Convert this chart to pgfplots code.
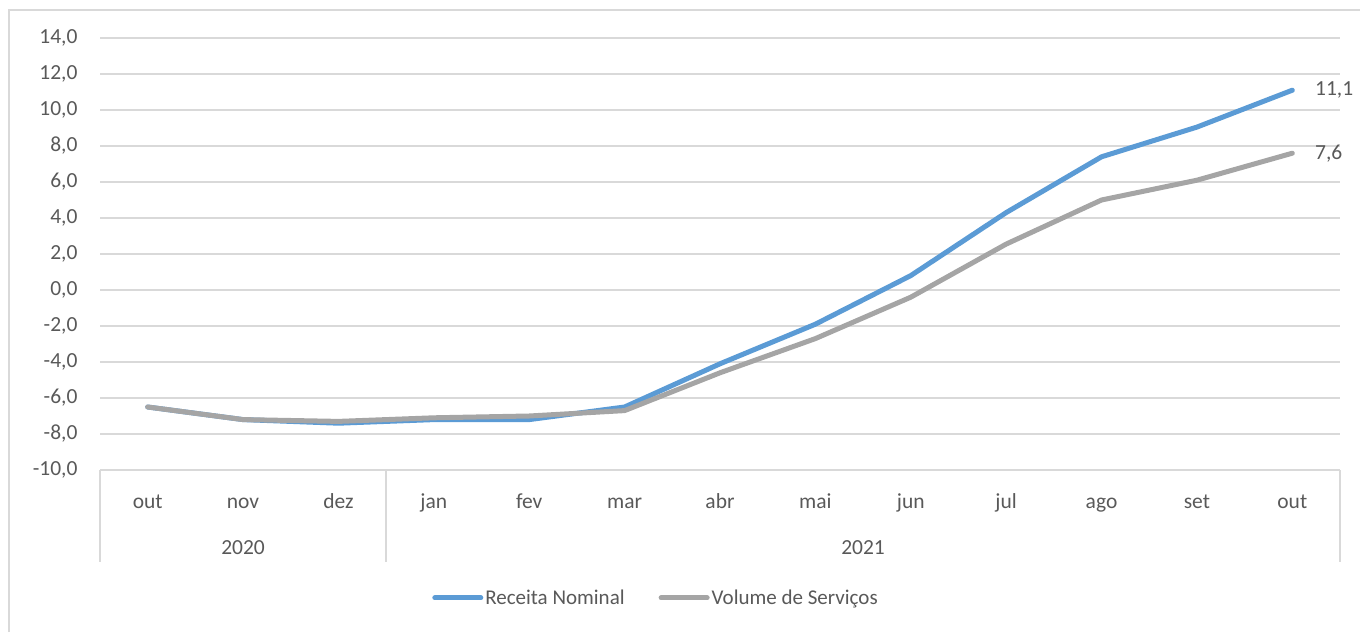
\documentclass[border=0pt]{standalone}
\usepackage{pgfplots}
\pgfplotsset{compat=1.18}
\usepackage{fontspec}
\setmainfont{Carlito}
\definecolor{txt}{HTML}{595959}
\definecolor{gridc}{HTML}{D9D9D9}
\definecolor{blueS}{HTML}{5B9BD5}
\definecolor{grayS}{HTML}{A5A5A5}
\begin{document}
\begin{tikzpicture}
\useasboundingbox (0pt,0pt) rectangle (1360pt,632pt);
\draw[gridc, line width=1.5pt] (9pt,0pt) -- (9pt,622pt) -- (1362pt,622pt);
\begin{axis}[
  at={(100pt,162pt)}, anchor=south west,
  scale only axis, width=1240pt, height=432pt,
  xmin=-0.5, xmax=12.5, ymin=-10, ymax=14,
  ytick={-10,-8,...,14},
  xtick={0,...,12},
  xticklabels={out,nov,dez,jan,fev,mar,abr,mai,jun,jul,ago,set,out},
  axis line style={draw=none},
  major tick length=0pt,
  ymajorgrids,
  grid style={gridc, line width=1.5pt},
  clip=false,
  font=\fontsize{21.5}{25}\selectfont,
  tick label style={txt, font=\fontsize{21.5}{25}\selectfont},
  xticklabel style={anchor=base, yshift=-38pt},
  yticklabel style={anchor=east, xshift=-19pt},
  /pgf/number format/.cd, fixed, fixed zerofill, precision=1, use comma, assume math mode=true,
  /pgfplots/.cd,
  legend style={draw=none, legend columns=2, at={(0.4484,-0.296)}, anchor=center,
    font=\fontsize{21}{25}\selectfont, text=txt,
    /tikz/every even column/.append style={column sep=32pt}},
  legend image code/.code={\draw[#1] (0pt,0pt) -- (46pt,0pt);},
]
\addplot[blueS, line width=5pt, line cap=round, line join=round] coordinates {
(0,-6.5) (1,-7.2) (2,-7.4) (3,-7.2) (4,-7.2) (5,-6.5) (6,-4.1) (7,-1.9) (8,0.8) (9,4.3) (10,7.4) (11,9.05) (12,11.1)
} node[pos=1, anchor=west, xshift=17pt, txt] {11,1};
\addlegendentry{Receita Nominal}
\addplot[grayS, line width=5pt, line cap=round, line join=round] coordinates {
(0,-6.5) (1,-7.2) (2,-7.3) (3,-7.1) (4,-7.0) (5,-6.7) (6,-4.6) (7,-2.7) (8,-0.4) (9,2.55) (10,5.0) (11,6.1) (12,7.6)
} node[pos=1, anchor=west, xshift=17pt, txt] {7,6};
\addlegendentry{Volume de Serviços}
\draw[gridc, line width=1.5pt] (axis cs:-0.5,-10) -- (axis cs:-0.5,-15.1);
\draw[gridc, line width=1.5pt] (axis cs:2.5,-10) -- (axis cs:2.5,-15.1);
\draw[gridc, line width=1.5pt] (axis cs:12.5,-10) -- (axis cs:12.5,-15.1);
\node[txt, anchor=base] at (axis cs:1,-14.67) {2020};
\node[txt, anchor=base] at (axis cs:7.5,-14.67) {2021};
\end{axis}
\end{tikzpicture}
\end{document}
